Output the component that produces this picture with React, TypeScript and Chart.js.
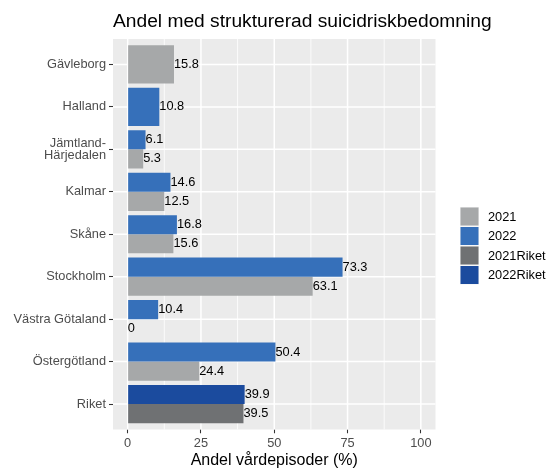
import React, { useEffect, useRef } from "react";
import { Chart, registerables } from "chart.js";

Chart.register(...registerables);

const TITLE = "Andel med strukturerad suicidriskbedomning";
const X_TITLE = "Andel vårdepisoder (%)";

const categories: (string | string[])[] = [
  "Gävleborg",
  "Halland",
  ["Jämtland-", "Härjedalen"],
  "Kalmar",
  "Skåne",
  "Stockholm",
  "Västra Götaland",
  "Östergötland",
  "Riket",
];

const values2021: (number | null)[] = [15.8, null, 5.3, 12.5, 15.6, 63.1, 0, 24.4, null];
const values2022: (number | null)[] = [null, 10.8, 6.1, 14.6, 16.8, 73.3, 10.4, 50.4, null];
const values2021Riket: (number | null)[] = [null, null, null, null, null, null, null, null, 39.5];
const values2022Riket: (number | null)[] = [null, null, null, null, null, null, null, null, 39.9];

const seriesLabels = ["2021", "2022", "2021Riket", "2022Riket"];
const seriesColors = ["#A6A8A9", "#3670BA", "#6F7173", "#1B4B9E"];

const xMajorTicks = [0, 25, 50, 75, 100];
const xMinorTicks = [12.5, 37.5, 62.5, 87.5];
const X_MIN = -5;
const X_MAX = 105;

const FONT = "'Liberation Sans', Arial, Helvetica, sans-serif";

const panelPlugin = {
  id: "panel",
  beforeDatasetsDraw(chart: any) {
    const { ctx, chartArea: ca, scales } = chart;
    const x = scales.x;
    const y = scales.y;
    const h = ca.height / categories.length;
    const top = ca.top - 0.1 * h;
    const bottom = ca.bottom + 0.1 * h;
    ctx.save();
    ctx.fillStyle = "#EBEBEB";
    ctx.fillRect(ca.left, top, ca.right - ca.left, bottom - top);
    ctx.strokeStyle = "#FFFFFF";
    ctx.lineWidth = 0.8;
    xMinorTicks.forEach((v) => {
      const px = x.getPixelForValue(v);
      ctx.beginPath();
      ctx.moveTo(px, top);
      ctx.lineTo(px, bottom);
      ctx.stroke();
    });
    ctx.lineWidth = 1.5;
    xMajorTicks.forEach((v) => {
      const px = x.getPixelForValue(v);
      ctx.beginPath();
      ctx.moveTo(px, top);
      ctx.lineTo(px, bottom);
      ctx.stroke();
    });
    categories.forEach((_, i) => {
      const py = y.getPixelForValue(i);
      ctx.beginPath();
      ctx.moveTo(ca.left, py);
      ctx.lineTo(ca.right, py);
      ctx.stroke();
    });
    ctx.restore();
  },
};

const labelPlugin = {
  id: "valueLabels",
  afterDatasetsDraw(chart: any) {
    const { ctx } = chart;
    ctx.save();
    ctx.font = `12.8px ${FONT}`;
    ctx.fillStyle = "#000000";
    ctx.textAlign = "left";
    ctx.textBaseline = "middle";
    chart.data.datasets.forEach((ds: any, i: number) => {
      const meta = chart.getDatasetMeta(i);
      meta.data.forEach((el: any, j: number) => {
        const v = ds.data[j];
        if (v === null || v === undefined) return;
        ctx.fillText(String(v), el.x, el.y);
      });
    });
    ctx.restore();
  },
};

const titleLegendPlugin = {
  id: "titleLegend",
  afterDraw(chart: any) {
    const { ctx, chartArea: ca } = chart;
    ctx.save();
    ctx.font = `19.2px ${FONT}`;
    ctx.fillStyle = "#000000";
    ctx.textAlign = "left";
    ctx.textBaseline = "alphabetic";
    ctx.fillText(TITLE, ca.left, ca.top - 16.5);

    const keySize = 19;
    const step = 19.5;
    const kx = ca.right + 24.5;
    const ky = 207;
    ctx.font = `12.8px ${FONT}`;
    ctx.textBaseline = "middle";
    seriesLabels.forEach((lab, i) => {
      const ds = chart.data.datasets.find((d: any) => d.label === lab);
      const top = ky + i * step;
      ctx.fillStyle = "#F2F2F2";
      ctx.fillRect(kx, top, keySize, keySize);
      ctx.fillStyle = ds ? ds.backgroundColor : "#999";
      ctx.fillRect(kx + 0.5, top + 0.5, keySize - 1, keySize - 1);
      ctx.fillStyle = "#000000";
      ctx.fillText(lab, kx + 28, top + keySize / 2 + 0.5);
    });
    ctx.restore();
  },
};

export default function App() {
  const canvasRef = useRef<HTMLCanvasElement | null>(null);

  useEffect(() => {
    if (!canvasRef.current) return;
    const mk = (label: string, data: (number | null)[]) => ({
      label,
      data,
      backgroundColor: seriesColors[seriesLabels.indexOf(label)],
      borderWidth: 0,
      categoryPercentage: 0.9,
      barPercentage: 1.0,
      skipNull: true,
    });
    const chart = new Chart(canvasRef.current, {
      type: "bar",
      data: {
        labels: categories as any,
        datasets: [
          mk("2022", values2022),
          mk("2021", values2021),
          mk("2022Riket", values2022Riket),
          mk("2021Riket", values2021Riket),
        ] as any,
      },
      options: {
        indexAxis: "y",
        animation: false,
        responsive: false,
        maintainAspectRatio: false,
        layout: { padding: { top: 43.25, right: 110.5, bottom: 0, left: 0 } },
        plugins: {
          legend: { display: false },
          title: { display: false },
          tooltip: { enabled: false },
        },
        scales: {
          x: {
            type: "linear",
            min: X_MIN,
            max: X_MAX,
            afterBuildTicks: (s: any) => {
              s.ticks = xMajorTicks.map((v) => ({ value: v }));
            },
            afterFit: (s: any) => {
              s.height = 42.75;
            },
            grid: {
              drawOnChartArea: false,
              drawTicks: true,
              tickLength: 8,
              tickColor: "#333333",
              tickWidth: 1.07,
            },
            border: { display: false },
            ticks: {
              color: "#4D4D4D",
              font: { family: FONT, size: 12.8 },
              padding: 2.3,
              maxRotation: 0,
              autoSkip: false,
            },
            title: {
              display: true,
              text: X_TITLE,
              color: "#000000",
              font: { family: FONT, size: 16, lineHeight: 0.9 },
              padding: { top: 0, bottom: 0 },
            },
          },
          y: {
            type: "category",
            offset: true,
            afterFit: (s: any) => {
              s.width = 113;
            },
            grid: {
              offset: false,
              drawOnChartArea: false,
              drawTicks: true,
              tickLength: 4,
              tickColor: "#333333",
              tickWidth: 1.07,
            },
            border: { display: false },
            ticks: {
              color: "#4D4D4D",
              font: { family: FONT, size: 12.8, lineHeight: 0.95 },
              padding: 3,
              autoSkip: false,
            },
          },
        },
      } as any,
      plugins: [panelPlugin, labelPlugin, titleLegendPlugin],
    });
    return () => chart.destroy();
  }, []);

  return (
    <div style={{ position: "fixed", left: 0, top: 0, width: 546, height: 468, background: "#FFFFFF" }}>
      <canvas ref={canvasRef} width={546} height={468} style={{ display: "block", width: 546, height: 468 }} />
    </div>
  );
}
